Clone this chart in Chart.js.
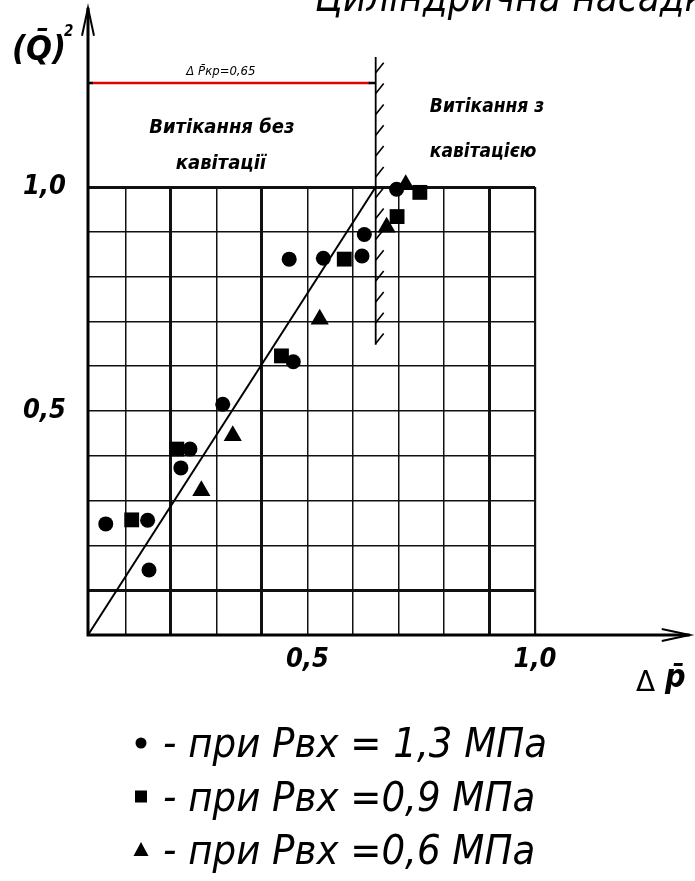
<!DOCTYPE html>
<html>
<head>
<meta charset="utf-8">
<script src="https://cdn.jsdelivr.net/npm/chart.js@4.4.1/dist/chart.umd.min.js"></script>
<style>
  html, body { margin: 0; padding: 0; background: #fff; overflow: hidden; }
  canvas { display: block; }
</style>
</head>
<body>
<canvas id="c" width="695" height="881"></canvas>
<script>
// ---------- data ----------
const seriesLabels = ['- при Рвх = 1,3 МПа', '- при Рвх =0,9 МПа', '- при Рвх =0,6 МПа'];

const p13X = [0.057, 0.149, 0.152, 0.222, 0.242, 0.314, 0.469, 0.460, 0.535, 0.620, 0.625, 0.696];
const p13Y = [0.248, 0.256, 0.145, 0.373, 0.415, 0.515, 0.610, 0.839, 0.841, 0.846, 0.894, 0.995];

const p09X = [0.114, 0.213, 0.443, 0.581, 0.697, 0.747];
const p09Y = [0.257, 0.415, 0.623, 0.839, 0.934, 0.988];

const p06X = [0.267, 0.336, 0.527, 0.674, 0.716];
const p06Y = [0.322, 0.445, 0.705, 0.910, 1.005];

const fitLineX = [0.018, 0.65];
const fitLineY = [0.0, 1.0];

const criticalDp = 0.65;           // Δp̄кр
const xMin = 0.018, xMax = 1.0;
const yMin = 0.0,  yMax = 1.0;
const xTickValues = [0.1, 0.2, 0.3, 0.4, 0.5, 0.6, 0.7, 0.8, 0.9, 1.0];
const yTickValues = [0.1, 0.2, 0.3, 0.4, 0.5, 0.6, 0.7, 0.8, 0.9, 1.0];
const labeledTicks = { '0.5': '0,5', '1': '1,0' };
const thickX = [0.2, 0.4, 0.9];
const thickY = [0.1, 1.0];

const zip = (xs, ys) => xs.map((x, i) => ({ x: x, y: ys[i] }));

// ---------- decorations plugin ----------
const decor = {
  id: 'decor',
  afterDraw(chart) {
    const ctx = chart.ctx;
    const xs = chart.scales.x, ys = chart.scales.y;
    const X = v => xs.getPixelForValue(v);
    const Y = v => ys.getPixelForValue(v);
    const x0 = X(xMin), y0 = Y(0);
    ctx.save();
    ctx.strokeStyle = '#000';
    ctx.fillStyle = '#000';
    ctx.lineCap = 'butt';

    // axes with arrows
    const yTip = Y(1.40), xTip = X(1.34);
    ctx.lineWidth = 3;
    ctx.beginPath();
    ctx.moveTo(x0, y0 + 1.5); ctx.lineTo(x0, yTip);
    ctx.moveTo(x0 - 1.5, y0); ctx.lineTo(xTip, y0);
    ctx.stroke();
    ctx.lineWidth = 2;
    ctx.beginPath();
    ctx.moveTo(x0 - 6, yTip + 28); ctx.lineTo(x0, yTip); ctx.lineTo(x0 + 6, yTip + 28);
    ctx.moveTo(xTip - 28, y0 - 6); ctx.lineTo(xTip, y0); ctx.lineTo(xTip - 28, y0 + 6);
    ctx.stroke();

    // critical dimension line (red)
    const xc = X(criticalDp);
    const yDim = Y(1.232);
    ctx.strokeStyle = '#e00000';
    ctx.lineWidth = 2.5;
    ctx.beginPath(); ctx.moveTo(x0 + 4, yDim); ctx.lineTo(xc - 6, yDim); ctx.stroke();
    ctx.strokeStyle = '#000';
    ctx.lineWidth = 2.5;
    ctx.beginPath();
    ctx.moveTo(x0, yDim); ctx.lineTo(x0 + 5, yDim);
    ctx.moveTo(xc - 7, yDim); ctx.lineTo(xc, yDim);
    ctx.stroke();

    // hatched boundary at Δp̄кр
    const hTop = Y(1.29), hBot = Y(0.648);
    ctx.lineWidth = 1.8;
    ctx.beginPath(); ctx.moveTo(xc, hTop); ctx.lineTo(xc, hBot); ctx.stroke();
    ctx.lineWidth = 1.6;
    ctx.beginPath();
    for (let v = 1.255; v > 0.645; v -= 0.0465) {
      const py = Y(v);
      ctx.moveTo(xc, py); ctx.lineTo(xc + 8, py - 10);
    }
    ctx.stroke();

    // texts
    const txt = (s, x, y, font, align, maxW) => {
      ctx.font = font; ctx.textAlign = align || 'left'; ctx.textBaseline = 'alphabetic';
      if (maxW) ctx.fillText(s, x, y, maxW); else ctx.fillText(s, x, y);
    };
    const fam = '"DejaVu Sans Condensed", "DejaVu Sans", sans-serif';
    txt('Циліндрична насадка', 315, 11, 'italic 40px ' + fam, 'left', 455);
    txt('(Q\u0304)', 12, 60, 'italic bold 34px ' + fam, 'left', 56);
    txt('2', 64, 36, 'italic bold 15px ' + fam, 'left');
    txt('\u0394 P\u0304кр=0,65', X(0.31), Y(1.25), 'italic 13px ' + fam, 'center', 80);
    txt('Витікання без', X(0.312), Y(1.121), 'italic bold 20px ' + fam, 'center', 157);
    txt('кавітації', X(0.31), Y(1.04), 'italic bold 20px ' + fam, 'center', 104);
    txt('Витікання з', X(0.769), Y(1.167), 'italic bold 19px ' + fam, 'left', 131);
    txt('кавітацією', X(0.769), Y(1.067), 'italic bold 19px ' + fam, 'left', 122);
    txt('\u0394', 636, 691, '28px "DejaVu Sans", sans-serif', 'left');
    txt('p\u0304', 665, 687, 'italic bold 32px ' + fam, 'left');

    // legend built from the datasets
    const legendSets = chart.data.datasets.filter(d => d.inLegend);
    ctx.font = 'italic 40px ' + fam;
    const natural = ctx.measureText(legendSets[0].label).width;
    const k = 384 / natural;
    legendSets.forEach((d, i) => {
      const cy = 743 + i * 53.5;
      const cx = 141;
      ctx.fillStyle = '#000';
      ctx.beginPath();
      if (d.pointStyle === 'circle') {
        ctx.arc(cx, cy, 5.5, 0, Math.PI * 2);
      } else if (d.pointStyle === 'rect') {
        ctx.rect(cx - 6, cy - 6, 12, 12);
      } else {
        ctx.moveTo(cx, cy - 8); ctx.lineTo(cx + 7.5, cy + 6); ctx.lineTo(cx - 7.5, cy + 6); ctx.closePath();
      }
      ctx.fill();
      ctx.save();
      ctx.translate(163, cy + 14);
      ctx.scale(k, 1);
      ctx.font = 'italic 40px ' + fam;
      ctx.textAlign = 'left';
      ctx.fillText(d.label, 0, 0);
      ctx.restore();
    });
    ctx.restore();
  }
};

const gridWidth = (thick) => (c) => {
  const v = c.tick ? c.tick.value : null;
  if (v === null) return 1.5;
  if (thick.some(t => Math.abs(t - v) < 1e-6)) return 3;
  if (Math.abs(v - 1) < 1e-6) return 2.2;
  return 1.5;
};

const tickFont = { family: '"DejaVu Sans Condensed", "DejaVu Sans", sans-serif', size: 27, style: 'italic', weight: 'bold' };

new Chart(document.getElementById('c'), {
  type: 'scatter',
  data: {
    datasets: [
      { label: seriesLabels[0], inLegend: true, data: zip(p13X, p13Y), pointStyle: 'circle', pointRadius: 7.5,
        backgroundColor: '#000', borderColor: '#000', borderWidth: 0, clip: false },
      { label: seriesLabels[1], inLegend: true, data: zip(p09X, p09Y), pointStyle: 'rect', pointRadius: 10.5,
        backgroundColor: '#000', borderColor: '#000', borderWidth: 0, clip: false },
      { label: seriesLabels[2], inLegend: true, data: zip(p06X, p06Y), pointStyle: 'triangle', pointRadius: 10.5,
        backgroundColor: '#000', borderColor: '#000', borderWidth: 0, clip: false },
      { type: 'line', label: 'fit', data: zip(fitLineX, fitLineY), showLine: true, pointRadius: 0,
        borderColor: '#000', borderWidth: 2, fill: false, clip: false }
    ]
  },
  options: {
    responsive: false,
    animation: false,
    devicePixelRatio: 1,
    layout: { padding: { left: 0, right: 160, top: 187, bottom: 0 } },
    plugins: { legend: { display: false }, tooltip: { enabled: false }, title: { display: false } },
    scales: {
      x: {
        type: 'linear', min: xMin, max: xMax,
        afterBuildTicks: s => { s.ticks = xTickValues.map(v => ({ value: v })); },
        afterFit: s => { s.height = 246; },
        border: { display: false },
        grid: { drawTicks: false, color: '#111', lineWidth: gridWidth(thickX) },
        ticks: {
          autoSkip: false, maxRotation: 0, padding: 9, color: '#000', font: tickFont,
          callback: v => labeledTicks[String(Math.round(v * 10) / 10)] || ''
        }
      },
      y: {
        type: 'linear', min: yMin, max: yMax,
        afterBuildTicks: s => { s.ticks = yTickValues.map(v => ({ value: v })); },
        afterFit: s => { s.width = 88; },
        border: { display: false },
        grid: { drawTicks: false, color: '#111', lineWidth: gridWidth(thickY) },
        ticks: {
          autoSkip: false, padding: 22, color: '#000', font: tickFont,
          callback: v => labeledTicks[String(Math.round(v * 10) / 10)] || ''
        }
      }
    }
  },
  plugins: [decor]
});
</script>
</body>
</html>
